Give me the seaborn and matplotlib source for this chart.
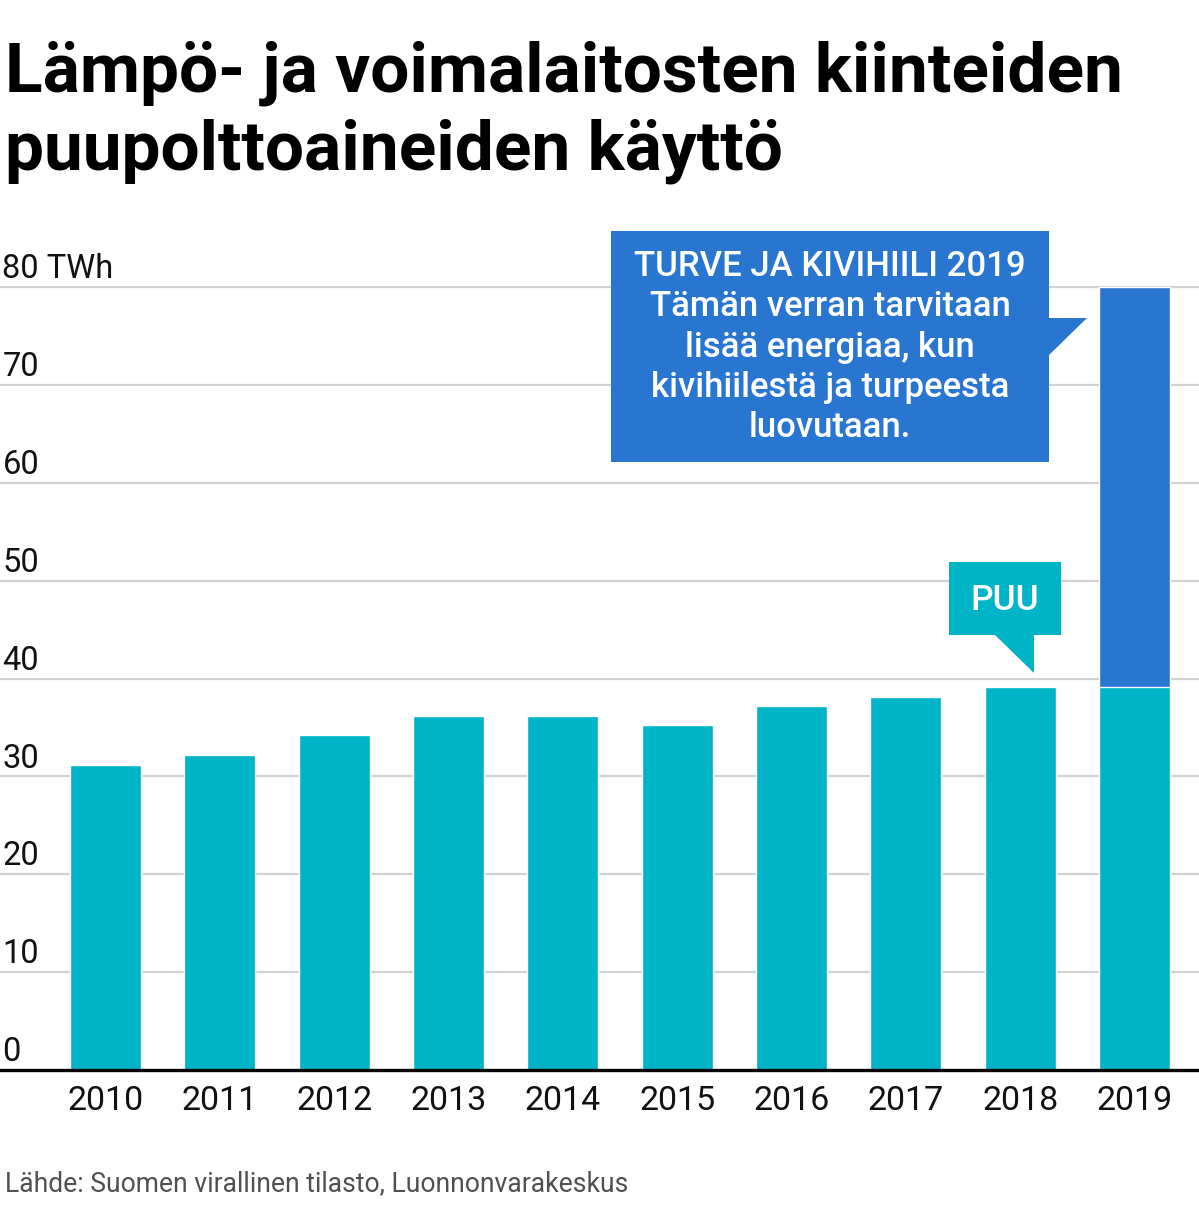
import numpy as np
import pandas as pd
import matplotlib
import matplotlib.pyplot as plt
from matplotlib.patches import Polygon
import seaborn as sns

# data (TWh)
years = ["2010", "2011", "2012", "2013", "2014", "2015", "2016", "2017", "2018", "2019"]
wood = [31.2, 32.2, 34.2, 36.2, 36.2, 35.2, 37.2, 38.1, 39.1, 39.1]
coal_peat = [0, 0, 0, 0, 0, 0, 0, 0, 0, 40.9]
y_ticks = [0, 10, 20, 30, 40, 50, 60, 70, 80]
y_labels = ["0", "10", "20", "30", "40", "50", "60", "70", "80 TWh"]

teal = "#00b4c8"
blue = "#2976d1"

df = pd.DataFrame({"year": years, "wood": wood, "coal_peat": coal_peat})
df["total"] = df["wood"] + df["coal_peat"]

sns.set_theme(style="white")
plt.rcParams["font.family"] = ["Roboto", "DejaVu Sans"]

W, H = 1199, 1215
fig = plt.figure(figsize=(W / 100, H / 100), dpi=100)

ymax = 82
y0_px, y80_px = 1070, 287
unit = (y0_px - y80_px) / 80
top_px = y0_px - ymax * unit
ax = fig.add_axes([0, 1 - y0_px / H, 1, (y0_px - top_px) / H])

# stacked bars: total in blue, wood on top in teal
sns.barplot(data=df, x="year", y="total", color=blue, saturation=1, width=0.62, ax=ax, zorder=3)
sns.barplot(data=df, x="year", y="wood", color=teal, saturation=1, width=0.62, ax=ax, zorder=4)

ax.set_xlim(-0.923, 9.564)
ax.set_ylim(0, ymax)
ax.set_xlabel("")
ax.set_ylabel("")
ax.set_yticks([])
for s in ["top", "left", "right"]:
    ax.spines[s].set_visible(False)
ax.spines["bottom"].set_color("black")
ax.spines["bottom"].set_linewidth(2.4)
ax.spines["bottom"].set_zorder(6)

for t, lab in zip(y_ticks, y_labels):
    if t > 0:
        ax.axhline(t, color="#d2d2d2", lw=1.6, zorder=1)
    ax.text(0.002, t + 0.9, lab, transform=ax.get_yaxis_transform(), ha="left",
            va="baseline", fontsize=23.5, color="#111111", zorder=5)

ax.tick_params(axis="x", length=0, pad=11, labelsize=24.5, labelcolor="#111111")

# title and source
fig.text(5 / W, 1 - 91 / H, "Lämpö- ja voimalaitosten kiinteiden",
         ha="left", va="baseline", fontsize=50, fontweight="bold", color="black")
fig.text(5 / W, 1 - 170 / H, "puupolttoaineiden käyttö",
         ha="left", va="baseline", fontsize=50, fontweight="bold", color="black")
fig.text(5 / W, 1 - 1191 / H, "Lähde: Suomen virallinen tilasto, Luonnonvarakeskus",
         ha="left", va="baseline", fontsize=19.1, color="#505050")


def px(x, y):
    return (x / W, 1 - y / H)


# callout for coal and peat
blue_box = [px(611, 231), px(1049, 231), px(1049, 318), px(1087, 318), px(1049, 355),
            px(1049, 462), px(611, 462)]
fig.patches.append(Polygon(blue_box, closed=True, transform=fig.transFigure,
                           facecolor=blue, edgecolor="none", zorder=10))
fig.text(830 / W, 1 - 347 / H,
         "TURVE JA KIVIHIILI 2019\nTämän verran tarvitaan\nlisää energiaa, kun\nkivihiilestä ja turpeesta\nluovutaan.",
         ha="center", va="center", multialignment="center", fontsize=25,
         fontweight="medium", color="white", linespacing=1.27, zorder=11)

# callout for wood
puu_box = [px(949, 562), px(1061, 562), px(1061, 635), px(1034, 635), px(1034, 673),
           px(995, 635), px(949, 635)]
fig.patches.append(Polygon(puu_box, closed=True, transform=fig.transFigure,
                           facecolor=teal, edgecolor="none", zorder=10))
fig.text(1005 / W, 1 - 600 / H, "PUU", ha="center", va="center", fontsize=25.5,
         fontweight="medium", color="white", zorder=11)

fig.savefig("out.png", dpi=100, facecolor="white")
